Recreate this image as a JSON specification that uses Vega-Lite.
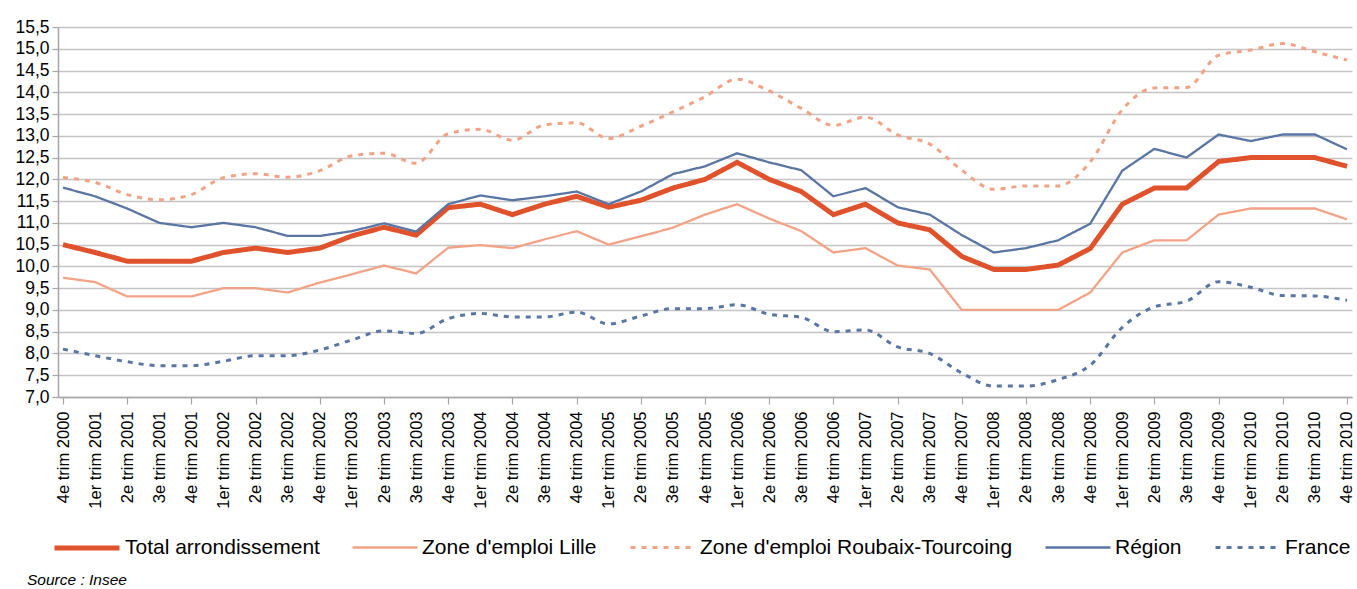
{
  "$schema": "https://vega.github.io/schema/vega-lite/v6.json",
  "width": 1294,
  "height": 370,
  "autosize": {"type": "none"},
  "padding": {"left": 58, "top": 27, "right": 5, "bottom": 192},
  "background": "white",
  "config": {
    "view": {"stroke": null},
    "font": "Liberation Sans",
    "axis": {"labelFont": "Liberation Sans", "labelColor": "#000000"},
    "legend": {"labelFont": "Liberation Sans"}
  },
  "title": {
    "text": "Source : Insee",
    "orient": "bottom",
    "anchor": "start",
    "frame": "group",
    "dx": -31,
    "offset": 15,
    "font": "Liberation Sans",
    "fontSize": 15.5,
    "fontStyle": "italic",
    "fontWeight": "normal",
    "color": "#000000"
  },
  "data": {
    "values": [
      {"q": "4e trim 2000", "s": "Total arrondissement", "v": 10.5},
      {"q": "1er trim 2001", "s": "Total arrondissement", "v": 10.32},
      {"q": "2e trim 2001", "s": "Total arrondissement", "v": 10.12},
      {"q": "3e trim 2001", "s": "Total arrondissement", "v": 10.12},
      {"q": "4e trim 2001", "s": "Total arrondissement", "v": 10.12},
      {"q": "1er trim 2002", "s": "Total arrondissement", "v": 10.32},
      {"q": "2e trim 2002", "s": "Total arrondissement", "v": 10.42},
      {"q": "3e trim 2002", "s": "Total arrondissement", "v": 10.32},
      {"q": "4e trim 2002", "s": "Total arrondissement", "v": 10.42},
      {"q": "1er trim 2003", "s": "Total arrondissement", "v": 10.7},
      {"q": "2e trim 2003", "s": "Total arrondissement", "v": 10.9},
      {"q": "3e trim 2003", "s": "Total arrondissement", "v": 10.72},
      {"q": "4e trim 2003", "s": "Total arrondissement", "v": 11.35},
      {"q": "1er trim 2004", "s": "Total arrondissement", "v": 11.43},
      {"q": "2e trim 2004", "s": "Total arrondissement", "v": 11.19},
      {"q": "3e trim 2004", "s": "Total arrondissement", "v": 11.43},
      {"q": "4e trim 2004", "s": "Total arrondissement", "v": 11.61},
      {"q": "1er trim 2005", "s": "Total arrondissement", "v": 11.36},
      {"q": "2e trim 2005", "s": "Total arrondissement", "v": 11.52},
      {"q": "3e trim 2005", "s": "Total arrondissement", "v": 11.8},
      {"q": "4e trim 2005", "s": "Total arrondissement", "v": 12.0},
      {"q": "1er trim 2006", "s": "Total arrondissement", "v": 12.39},
      {"q": "2e trim 2006", "s": "Total arrondissement", "v": 12.0},
      {"q": "3e trim 2006", "s": "Total arrondissement", "v": 11.72},
      {"q": "4e trim 2006", "s": "Total arrondissement", "v": 11.19},
      {"q": "1er trim 2007", "s": "Total arrondissement", "v": 11.43},
      {"q": "2e trim 2007", "s": "Total arrondissement", "v": 11.0},
      {"q": "3e trim 2007", "s": "Total arrondissement", "v": 10.84},
      {"q": "4e trim 2007", "s": "Total arrondissement", "v": 10.23},
      {"q": "1er trim 2008", "s": "Total arrondissement", "v": 9.93},
      {"q": "2e trim 2008", "s": "Total arrondissement", "v": 9.93},
      {"q": "3e trim 2008", "s": "Total arrondissement", "v": 10.03},
      {"q": "4e trim 2008", "s": "Total arrondissement", "v": 10.41},
      {"q": "1er trim 2009", "s": "Total arrondissement", "v": 11.43},
      {"q": "2e trim 2009", "s": "Total arrondissement", "v": 11.8},
      {"q": "3e trim 2009", "s": "Total arrondissement", "v": 11.8},
      {"q": "4e trim 2009", "s": "Total arrondissement", "v": 12.41},
      {"q": "1er trim 2010", "s": "Total arrondissement", "v": 12.5},
      {"q": "2e trim 2010", "s": "Total arrondissement", "v": 12.5},
      {"q": "3e trim 2010", "s": "Total arrondissement", "v": 12.5},
      {"q": "4e trim 2010", "s": "Total arrondissement", "v": 12.3},

      {"q": "4e trim 2000", "s": "Zone d'emploi Lille", "v": 9.74},
      {"q": "1er trim 2001", "s": "Zone d'emploi Lille", "v": 9.64},
      {"q": "2e trim 2001", "s": "Zone d'emploi Lille", "v": 9.31},
      {"q": "3e trim 2001", "s": "Zone d'emploi Lille", "v": 9.31},
      {"q": "4e trim 2001", "s": "Zone d'emploi Lille", "v": 9.31},
      {"q": "1er trim 2002", "s": "Zone d'emploi Lille", "v": 9.5},
      {"q": "2e trim 2002", "s": "Zone d'emploi Lille", "v": 9.5},
      {"q": "3e trim 2002", "s": "Zone d'emploi Lille", "v": 9.4},
      {"q": "4e trim 2002", "s": "Zone d'emploi Lille", "v": 9.63},
      {"q": "1er trim 2003", "s": "Zone d'emploi Lille", "v": 9.82},
      {"q": "2e trim 2003", "s": "Zone d'emploi Lille", "v": 10.02},
      {"q": "3e trim 2003", "s": "Zone d'emploi Lille", "v": 9.84},
      {"q": "4e trim 2003", "s": "Zone d'emploi Lille", "v": 10.43},
      {"q": "1er trim 2004", "s": "Zone d'emploi Lille", "v": 10.49},
      {"q": "2e trim 2004", "s": "Zone d'emploi Lille", "v": 10.42},
      {"q": "3e trim 2004", "s": "Zone d'emploi Lille", "v": 10.62},
      {"q": "4e trim 2004", "s": "Zone d'emploi Lille", "v": 10.81},
      {"q": "1er trim 2005", "s": "Zone d'emploi Lille", "v": 10.5},
      {"q": "2e trim 2005", "s": "Zone d'emploi Lille", "v": 10.69},
      {"q": "3e trim 2005", "s": "Zone d'emploi Lille", "v": 10.89},
      {"q": "4e trim 2005", "s": "Zone d'emploi Lille", "v": 11.19},
      {"q": "1er trim 2006", "s": "Zone d'emploi Lille", "v": 11.43},
      {"q": "2e trim 2006", "s": "Zone d'emploi Lille", "v": 11.1},
      {"q": "3e trim 2006", "s": "Zone d'emploi Lille", "v": 10.81},
      {"q": "4e trim 2006", "s": "Zone d'emploi Lille", "v": 10.32},
      {"q": "1er trim 2007", "s": "Zone d'emploi Lille", "v": 10.42},
      {"q": "2e trim 2007", "s": "Zone d'emploi Lille", "v": 10.02},
      {"q": "3e trim 2007", "s": "Zone d'emploi Lille", "v": 9.93},
      {"q": "4e trim 2007", "s": "Zone d'emploi Lille", "v": 9.0},
      {"q": "1er trim 2008", "s": "Zone d'emploi Lille", "v": 9.0},
      {"q": "2e trim 2008", "s": "Zone d'emploi Lille", "v": 9.0},
      {"q": "3e trim 2008", "s": "Zone d'emploi Lille", "v": 9.0},
      {"q": "4e trim 2008", "s": "Zone d'emploi Lille", "v": 9.4},
      {"q": "1er trim 2009", "s": "Zone d'emploi Lille", "v": 10.32},
      {"q": "2e trim 2009", "s": "Zone d'emploi Lille", "v": 10.6},
      {"q": "3e trim 2009", "s": "Zone d'emploi Lille", "v": 10.6},
      {"q": "4e trim 2009", "s": "Zone d'emploi Lille", "v": 11.19},
      {"q": "1er trim 2010", "s": "Zone d'emploi Lille", "v": 11.33},
      {"q": "2e trim 2010", "s": "Zone d'emploi Lille", "v": 11.33},
      {"q": "3e trim 2010", "s": "Zone d'emploi Lille", "v": 11.33},
      {"q": "4e trim 2010", "s": "Zone d'emploi Lille", "v": 11.08},

      {"q": "4e trim 2000", "s": "Zone d'emploi Roubaix-Tourcoing", "v": 12.04},
      {"q": "1er trim 2001", "s": "Zone d'emploi Roubaix-Tourcoing", "v": 11.93},
      {"q": "2e trim 2001", "s": "Zone d'emploi Roubaix-Tourcoing", "v": 11.65},
      {"q": "3e trim 2001", "s": "Zone d'emploi Roubaix-Tourcoing", "v": 11.53},
      {"q": "4e trim 2001", "s": "Zone d'emploi Roubaix-Tourcoing", "v": 11.65},
      {"q": "1er trim 2002", "s": "Zone d'emploi Roubaix-Tourcoing", "v": 12.04},
      {"q": "2e trim 2002", "s": "Zone d'emploi Roubaix-Tourcoing", "v": 12.13},
      {"q": "3e trim 2002", "s": "Zone d'emploi Roubaix-Tourcoing", "v": 12.05},
      {"q": "4e trim 2002", "s": "Zone d'emploi Roubaix-Tourcoing", "v": 12.2},
      {"q": "1er trim 2003", "s": "Zone d'emploi Roubaix-Tourcoing", "v": 12.54},
      {"q": "2e trim 2003", "s": "Zone d'emploi Roubaix-Tourcoing", "v": 12.6},
      {"q": "3e trim 2003", "s": "Zone d'emploi Roubaix-Tourcoing", "v": 12.37},
      {"q": "4e trim 2003", "s": "Zone d'emploi Roubaix-Tourcoing", "v": 13.05},
      {"q": "1er trim 2004", "s": "Zone d'emploi Roubaix-Tourcoing", "v": 13.15},
      {"q": "2e trim 2004", "s": "Zone d'emploi Roubaix-Tourcoing", "v": 12.9},
      {"q": "3e trim 2004", "s": "Zone d'emploi Roubaix-Tourcoing", "v": 13.25},
      {"q": "4e trim 2004", "s": "Zone d'emploi Roubaix-Tourcoing", "v": 13.3},
      {"q": "1er trim 2005", "s": "Zone d'emploi Roubaix-Tourcoing", "v": 12.94},
      {"q": "2e trim 2005", "s": "Zone d'emploi Roubaix-Tourcoing", "v": 13.22},
      {"q": "3e trim 2005", "s": "Zone d'emploi Roubaix-Tourcoing", "v": 13.55},
      {"q": "4e trim 2005", "s": "Zone d'emploi Roubaix-Tourcoing", "v": 13.9},
      {"q": "1er trim 2006", "s": "Zone d'emploi Roubaix-Tourcoing", "v": 14.3},
      {"q": "2e trim 2006", "s": "Zone d'emploi Roubaix-Tourcoing", "v": 14.03},
      {"q": "3e trim 2006", "s": "Zone d'emploi Roubaix-Tourcoing", "v": 13.63},
      {"q": "4e trim 2006", "s": "Zone d'emploi Roubaix-Tourcoing", "v": 13.24},
      {"q": "1er trim 2007", "s": "Zone d'emploi Roubaix-Tourcoing", "v": 13.43},
      {"q": "2e trim 2007", "s": "Zone d'emploi Roubaix-Tourcoing", "v": 13.02},
      {"q": "3e trim 2007", "s": "Zone d'emploi Roubaix-Tourcoing", "v": 12.81},
      {"q": "4e trim 2007", "s": "Zone d'emploi Roubaix-Tourcoing", "v": 12.21},
      {"q": "1er trim 2008", "s": "Zone d'emploi Roubaix-Tourcoing", "v": 11.77},
      {"q": "2e trim 2008", "s": "Zone d'emploi Roubaix-Tourcoing", "v": 11.85},
      {"q": "3e trim 2008", "s": "Zone d'emploi Roubaix-Tourcoing", "v": 11.85},
      {"q": "4e trim 2008", "s": "Zone d'emploi Roubaix-Tourcoing", "v": 12.4},
      {"q": "1er trim 2009", "s": "Zone d'emploi Roubaix-Tourcoing", "v": 13.6},
      {"q": "2e trim 2009", "s": "Zone d'emploi Roubaix-Tourcoing", "v": 14.1},
      {"q": "3e trim 2009", "s": "Zone d'emploi Roubaix-Tourcoing", "v": 14.11},
      {"q": "4e trim 2009", "s": "Zone d'emploi Roubaix-Tourcoing", "v": 14.85},
      {"q": "1er trim 2010", "s": "Zone d'emploi Roubaix-Tourcoing", "v": 14.97},
      {"q": "2e trim 2010", "s": "Zone d'emploi Roubaix-Tourcoing", "v": 15.12},
      {"q": "3e trim 2010", "s": "Zone d'emploi Roubaix-Tourcoing", "v": 14.93},
      {"q": "4e trim 2010", "s": "Zone d'emploi Roubaix-Tourcoing", "v": 14.74},

      {"q": "4e trim 2000", "s": "Région", "v": 11.81},
      {"q": "1er trim 2001", "s": "Région", "v": 11.61},
      {"q": "2e trim 2001", "s": "Région", "v": 11.33},
      {"q": "3e trim 2001", "s": "Région", "v": 11.0},
      {"q": "4e trim 2001", "s": "Région", "v": 10.9},
      {"q": "1er trim 2002", "s": "Région", "v": 11.0},
      {"q": "2e trim 2002", "s": "Région", "v": 10.9},
      {"q": "3e trim 2002", "s": "Région", "v": 10.7},
      {"q": "4e trim 2002", "s": "Région", "v": 10.7},
      {"q": "1er trim 2003", "s": "Région", "v": 10.81},
      {"q": "2e trim 2003", "s": "Région", "v": 10.99},
      {"q": "3e trim 2003", "s": "Région", "v": 10.8},
      {"q": "4e trim 2003", "s": "Région", "v": 11.43},
      {"q": "1er trim 2004", "s": "Région", "v": 11.63},
      {"q": "2e trim 2004", "s": "Région", "v": 11.52},
      {"q": "3e trim 2004", "s": "Région", "v": 11.61},
      {"q": "4e trim 2004", "s": "Région", "v": 11.72},
      {"q": "1er trim 2005", "s": "Région", "v": 11.43},
      {"q": "2e trim 2005", "s": "Région", "v": 11.72},
      {"q": "3e trim 2005", "s": "Région", "v": 12.12},
      {"q": "4e trim 2005", "s": "Région", "v": 12.3},
      {"q": "1er trim 2006", "s": "Région", "v": 12.6},
      {"q": "2e trim 2006", "s": "Région", "v": 12.39},
      {"q": "3e trim 2006", "s": "Région", "v": 12.21},
      {"q": "4e trim 2006", "s": "Région", "v": 11.61},
      {"q": "1er trim 2007", "s": "Région", "v": 11.8},
      {"q": "2e trim 2007", "s": "Région", "v": 11.36},
      {"q": "3e trim 2007", "s": "Région", "v": 11.19},
      {"q": "4e trim 2007", "s": "Région", "v": 10.72},
      {"q": "1er trim 2008", "s": "Région", "v": 10.32},
      {"q": "2e trim 2008", "s": "Région", "v": 10.42},
      {"q": "3e trim 2008", "s": "Région", "v": 10.6},
      {"q": "4e trim 2008", "s": "Région", "v": 10.98},
      {"q": "1er trim 2009", "s": "Région", "v": 12.2},
      {"q": "2e trim 2009", "s": "Région", "v": 12.7},
      {"q": "3e trim 2009", "s": "Région", "v": 12.5},
      {"q": "4e trim 2009", "s": "Région", "v": 13.03},
      {"q": "1er trim 2010", "s": "Région", "v": 12.88},
      {"q": "2e trim 2010", "s": "Région", "v": 13.03},
      {"q": "3e trim 2010", "s": "Région", "v": 13.03},
      {"q": "4e trim 2010", "s": "Région", "v": 12.69},

      {"q": "4e trim 2000", "s": "France", "v": 8.1},
      {"q": "1er trim 2001", "s": "France", "v": 7.95},
      {"q": "2e trim 2001", "s": "France", "v": 7.81},
      {"q": "3e trim 2001", "s": "France", "v": 7.72},
      {"q": "4e trim 2001", "s": "France", "v": 7.72},
      {"q": "1er trim 2002", "s": "France", "v": 7.82},
      {"q": "2e trim 2002", "s": "France", "v": 7.95},
      {"q": "3e trim 2002", "s": "France", "v": 7.95},
      {"q": "4e trim 2002", "s": "France", "v": 8.08},
      {"q": "1er trim 2003", "s": "France", "v": 8.31},
      {"q": "2e trim 2003", "s": "France", "v": 8.52},
      {"q": "3e trim 2003", "s": "France", "v": 8.46},
      {"q": "4e trim 2003", "s": "France", "v": 8.8},
      {"q": "1er trim 2004", "s": "France", "v": 8.92},
      {"q": "2e trim 2004", "s": "France", "v": 8.84},
      {"q": "3e trim 2004", "s": "France", "v": 8.84},
      {"q": "4e trim 2004", "s": "France", "v": 8.95},
      {"q": "1er trim 2005", "s": "France", "v": 8.68},
      {"q": "2e trim 2005", "s": "France", "v": 8.86},
      {"q": "3e trim 2005", "s": "France", "v": 9.03},
      {"q": "4e trim 2005", "s": "France", "v": 9.03},
      {"q": "1er trim 2006", "s": "France", "v": 9.12},
      {"q": "2e trim 2006", "s": "France", "v": 8.9},
      {"q": "3e trim 2006", "s": "France", "v": 8.83},
      {"q": "4e trim 2006", "s": "France", "v": 8.5},
      {"q": "1er trim 2007", "s": "France", "v": 8.54},
      {"q": "2e trim 2007", "s": "France", "v": 8.15},
      {"q": "3e trim 2007", "s": "France", "v": 8.0},
      {"q": "4e trim 2007", "s": "France", "v": 7.55},
      {"q": "1er trim 2008", "s": "France", "v": 7.25},
      {"q": "2e trim 2008", "s": "France", "v": 7.25},
      {"q": "3e trim 2008", "s": "France", "v": 7.4},
      {"q": "4e trim 2008", "s": "France", "v": 7.73},
      {"q": "1er trim 2009", "s": "France", "v": 8.6},
      {"q": "2e trim 2009", "s": "France", "v": 9.07},
      {"q": "3e trim 2009", "s": "France", "v": 9.2},
      {"q": "4e trim 2009", "s": "France", "v": 9.65},
      {"q": "1er trim 2010", "s": "France", "v": 9.52},
      {"q": "2e trim 2010", "s": "France", "v": 9.33},
      {"q": "3e trim 2010", "s": "France", "v": 9.32},
      {"q": "4e trim 2010", "s": "France", "v": 9.22}
    ]
  },
  "encoding": {
    "x": {
      "field": "q",
      "type": "ordinal",
      "sort": null,
      "scale": {"type": "point", "padding": 0.156},
      "axis": {
        "title": null,
        "labelAngle": -90,
        "labelFontSize": 16.5,
        "labelPadding": 7,
        "labelColor": "#000000",
        "grid": false,
        "domainColor": "#A6A6A6",
        "domainWidth": 1.5,
        "tickColor": "#A6A6A6",
        "tickWidth": 1.2,
        "tickSize": 7,
        "tickOpacity": {"condition": {"test": "round(datum.index*40) % 2 == 0", "value": 1}, "value": 0}
      }
    },
    "y": {
      "field": "v",
      "type": "quantitative",
      "scale": {"domain": [7, 15.5], "nice": false, "zero": false},
      "axis": {
        "title": null,
        "values": [7, 7.5, 8, 8.5, 9, 9.5, 10, 10.5, 11, 11.5, 12, 12.5, 13, 13.5, 14, 14.5, 15, 15.5],
        "labelExpr": "replace(format(datum.value, '.1f'), '.', ',')",
        "labelFontSize": 17.5,
        "labelPadding": 3,
        "labelColor": "#000000",
        "domainColor": "#A6A6A6",
        "domainWidth": 1.5,
        "tickColor": "#A6A6A6",
        "tickSize": 6,
        "tickWidth": 1.2,
        "gridColor": "#C4C4C4",
        "gridWidth": 1.5
      }
    },
    "color": {
      "field": "s",
      "type": "nominal",
      "scale": {
        "domain": ["Total arrondissement", "Zone d'emploi Lille", "Zone d'emploi Roubaix-Tourcoing", "Région", "France"],
        "range": ["#E0522B", "#F2A385", "#F2A385", "#5975A4", "#5975A4"]
      },
      "legend": {
        "title": null,
        "orient": "none",
        "direction": "horizontal",
        "legendX": -6,
        "legendY": 486,
        "symbolType": "stroke",
        "symbolSize": 4225,
        "labelFontSize": 21,
        "labelColor": "#000000",
        "labelOffset": 3,
        "labelLimit": 0,
        "columnPadding": 27
      }
    },
    "strokeWidth": {
      "field": "s",
      "type": "nominal",
      "scale": {
        "type": "ordinal",
        "domain": ["Total arrondissement", "Zone d'emploi Lille", "Zone d'emploi Roubaix-Tourcoing", "Région", "France"],
        "range": [5, 2.3, 3, 2.3, 3]
      },
      "legend": null
    },
    "strokeDash": {
      "field": "s",
      "type": "nominal",
      "scale": {
        "domain": ["Total arrondissement", "Zone d'emploi Lille", "Zone d'emploi Roubaix-Tourcoing", "Région", "France"],
        "range": [[1, 0], [1, 0], [5, 6], [1, 0], [5, 6]]
      },
      "legend": null
    }
  },
  "layer": [
    {
      "transform": [{"filter": "datum.s == 'France' || datum.s == \"Zone d'emploi Roubaix-Tourcoing\""}],
      "mark": {"type": "line", "interpolate": "monotone"}
    },
    {
      "transform": [{"filter": "datum.s != 'France' && datum.s != \"Zone d'emploi Roubaix-Tourcoing\""}],
      "mark": {"type": "line"}
    }
  ]
}
